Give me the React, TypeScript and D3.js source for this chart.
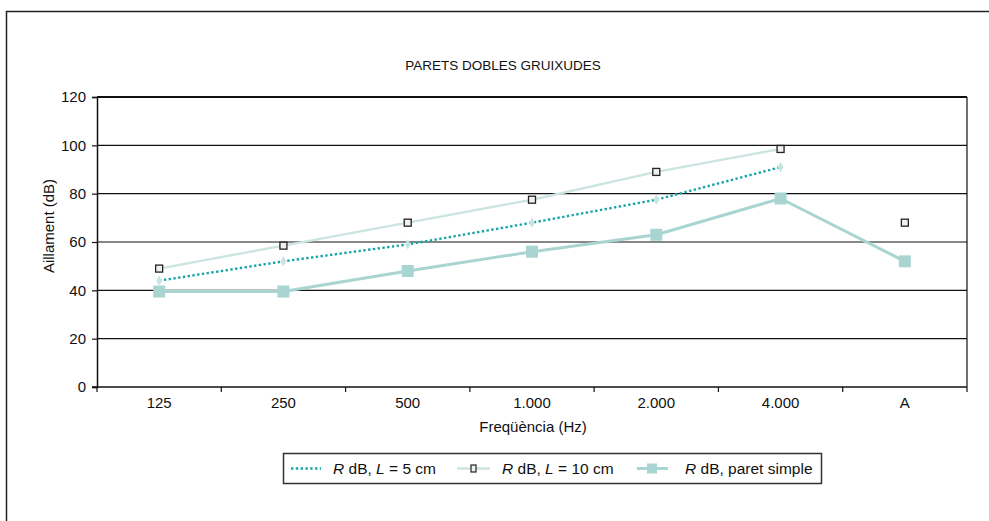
import React, { useEffect, useRef } from 'react';
import * as d3 from 'd3';

// categories on the x axis
const categories = ['125', '250', '500', '1.000', '2.000', '4.000', 'A'];
const yTicks = [0, 20, 40, 60, 80, 100, 120];

// R dB, L = 5 cm (no A value)
const rL5 = [44, 52, 59, 68, 77.5, 91];
// R dB, L = 10 cm, line only across the frequencies, A is a loose marker
const rL10 = [49, 58.5, 68, 77.5, 89, 98.5];
const rL10A = 68;
// R dB, paret simple
const rSimple = [39.5, 39.5, 48, 56, 63, 78, 52];

const W = 989;
const H = 521;
const FONT = '"Liberation Sans", Arial, sans-serif';

function App() {
  const ref = useRef<SVGSVGElement>(null);

  useEffect(() => {
    drawChart();
  }, []);

  function drawChart() {
    const svg = d3.select(ref.current);
    svg.selectAll('*').remove();

    const left = 97, right = 967, top = 97, bottom = 387;

    const xScale = d3.scaleBand<string>().domain(categories).range([left, right]);
    const xc = (c: string) => (xScale(c) as number) + xScale.bandwidth() / 2;
    const yScale = d3.scaleLinear().domain([0, 120]).range([bottom, top]);

    // outer frame (only top and left edges are inside the picture)
    svg.append('path')
      .attr('d', `M6.5,${H + 5} V11.5 H${W + 5}`)
      .attr('fill', 'none')
      .attr('stroke', '#222')
      .attr('stroke-width', 1.5);

    // title
    svg.append('text')
      .attr('x', 503)
      .attr('y', 70)
      .attr('text-anchor', 'middle')
      .attr('font-family', FONT)
      .style('font-size', '13.5px')
      .attr('fill', '#111')
      .text('PARETS DOBLES GRUIXUDES');

    // gridlines
    svg.append('g')
      .selectAll('line')
      .data(yTicks.filter(d => d > 0))
      .enter()
      .append('line')
      .attr('x1', left)
      .attr('x2', right)
      .attr('y1', d => yScale(d))
      .attr('y2', d => yScale(d))
      .attr('stroke', '#111')
      .attr('stroke-width', d => (d === 120 ? 2 : 1.2));

    // right border of plot
    svg.append('line')
      .attr('x1', right).attr('x2', right)
      .attr('y1', top).attr('y2', bottom)
      .attr('stroke', '#111')
      .attr('stroke-width', 1.2);

    // y axis
    svg.append('g')
      .attr('transform', `translate(${left},0)`)
      .style('font-size', '15px')
      .attr('font-family', FONT)
      .call(d3.axisLeft(yScale).tickValues(yTicks).tickSize(5).tickPadding(6))
      .call(g => g.select('.domain').attr('stroke', '#111').attr('stroke-width', 1.5))
      .call(g => g.selectAll('.tick line').attr('stroke', '#111').attr('stroke-width', 1.2))
      .call(g => g.selectAll('.tick text').attr('fill', '#111'));

    // x axis: ticks at band edges
    const xAxis = svg.append('g').attr('transform', `translate(0,${bottom})`);
    xAxis.append('line')
      .attr('x1', left - 5).attr('x2', right)
      .attr('stroke', '#111').attr('stroke-width', 1.5);
    xAxis.selectAll('.edge')
      .data(categories.map(c => xScale(c) as number).concat([right]))
      .enter()
      .append('line')
      .attr('x1', d => d).attr('x2', d => d)
      .attr('y1', 0).attr('y2', 5)
      .attr('stroke', '#111').attr('stroke-width', 1.2);
    xAxis.selectAll('.lbl')
      .data(categories)
      .enter()
      .append('text')
      .attr('x', d => xc(d))
      .attr('y', 21)
      .attr('text-anchor', 'middle')
      .attr('font-family', FONT)
      .style('font-size', '15px')
      .attr('fill', '#111')
      .text(d => d);

    // axis titles
    svg.append('text')
      .attr('x', 533)
      .attr('y', 432)
      .attr('text-anchor', 'middle')
      .attr('font-family', FONT)
      .style('font-size', '15px')
      .attr('fill', '#111')
      .text('Freqüència (Hz)');
    svg.append('text')
      .attr('transform', `translate(54,226) rotate(-90)`)
      .attr('text-anchor', 'middle')
      .attr('font-family', FONT)
      .style('font-size', '15px')
      .attr('fill', '#111')
      .text('Aillament (dB)');

    const line = d3.line<number>()
      .x((d, i) => xc(categories[i]))
      .y(d => yScale(d));

    // L = 10 cm
    svg.append('path')
      .attr('d', line(rL10))
      .attr('fill', 'none')
      .attr('stroke', '#cce5e2')
      .attr('stroke-width', 2.4);

    // paret simple
    svg.append('path')
      .attr('d', line(rSimple))
      .attr('fill', 'none')
      .attr('stroke', '#a8d5d1')
      .attr('stroke-width', 3);

    // L = 5 cm dotted
    svg.append('path')
      .attr('d', line(rL5))
      .attr('fill', 'none')
      .attr('stroke', '#17a6a6')
      .attr('stroke-width', 2.4)
      .attr('stroke-dasharray', '2.4,2.4');

    // diamonds L = 5 cm
    svg.append('g')
      .selectAll('path')
      .data(rL5)
      .enter()
      .append('path')
      .attr('d', d3.symbol(d3.symbolDiamond, 30)())
      .attr('transform', (d, i) => `translate(${xc(categories[i])},${yScale(d)})`)
      .attr('fill', '#c6e4e0');

    // squares paret simple
    svg.append('g')
      .selectAll('rect')
      .data(rSimple)
      .enter()
      .append('rect')
      .attr('x', (d, i) => xc(categories[i]) - 6)
      .attr('y', d => yScale(d) - 6)
      .attr('width', 12)
      .attr('height', 12)
      .attr('fill', '#a8d5d1');

    // squares L = 10 cm
    svg.append('g')
      .selectAll('rect')
      .data(rL10.concat([rL10A]))
      .enter()
      .append('rect')
      .attr('x', (d, i) => xc(categories[i]) - 3.5)
      .attr('y', d => yScale(d) - 3.5)
      .attr('width', 7)
      .attr('height', 7)
      .attr('fill', '#f0f0f0')
      .attr('stroke', '#222')
      .attr('stroke-width', 1.3);

    // legend
    const lg = svg.append('g');
    lg.append('rect')
      .attr('x', 283.5).attr('y', 453.5)
      .attr('width', 538).attr('height', 30)
      .attr('fill', 'white')
      .attr('stroke', '#333')
      .attr('stroke-width', 1.5);
    const ly = 468.5;
    lg.append('line')
      .attr('x1', 291).attr('x2', 321).attr('y1', ly).attr('y2', ly)
      .attr('stroke', '#17a6a6').attr('stroke-width', 2.4)
      .attr('stroke-dasharray', '2.4,2.4');
    lg.append('line')
      .attr('x1', 457).attr('x2', 490).attr('y1', ly).attr('y2', ly)
      .attr('stroke', '#cce5e2').attr('stroke-width', 2.4);
    lg.append('rect')
      .attr('x', 471).attr('y', ly - 3.5).attr('width', 5).attr('height', 7)
      .attr('fill', '#f0f0f0').attr('stroke', '#222').attr('stroke-width', 1.2);
    lg.append('line')
      .attr('x1', 637).attr('x2', 668).attr('y1', ly).attr('y2', ly)
      .attr('stroke', '#a8d5d1').attr('stroke-width', 3);
    lg.append('rect')
      .attr('x', 647).attr('y', ly - 5).attr('width', 10).attr('height', 10)
      .attr('fill', '#a8d5d1');

    const items = [
      { x: 333, parts: [['R', true], [' dB, ', false], ['L', true], [' = 5 cm', false]] },
      { x: 502, parts: [['R', true], [' dB, ', false], ['L', true], [' = 10 cm', false]] },
      { x: 685, parts: [['R', true], [' dB, paret simple', false]] },
    ];
    items.forEach(it => {
      const t = lg.append('text')
        .attr('x', it.x)
        .attr('y', ly + 5.5)
        .attr('font-family', FONT)
        .style('font-size', '15.5px')
        .attr('fill', '#111')
        .attr('xml:space', 'preserve')
        .style('white-space', 'pre');
      it.parts.forEach(([s, it2]) => {
        t.append('tspan')
          .style('font-style', it2 ? 'italic' : 'normal')
          .text(s as string);
      });
    });
  }

  return (
    <svg
      ref={ref}
      width={W}
      height={H}
      style={{ position: 'absolute', left: 0, top: 0, background: 'white' }}
    />
  );
}

export default App;
